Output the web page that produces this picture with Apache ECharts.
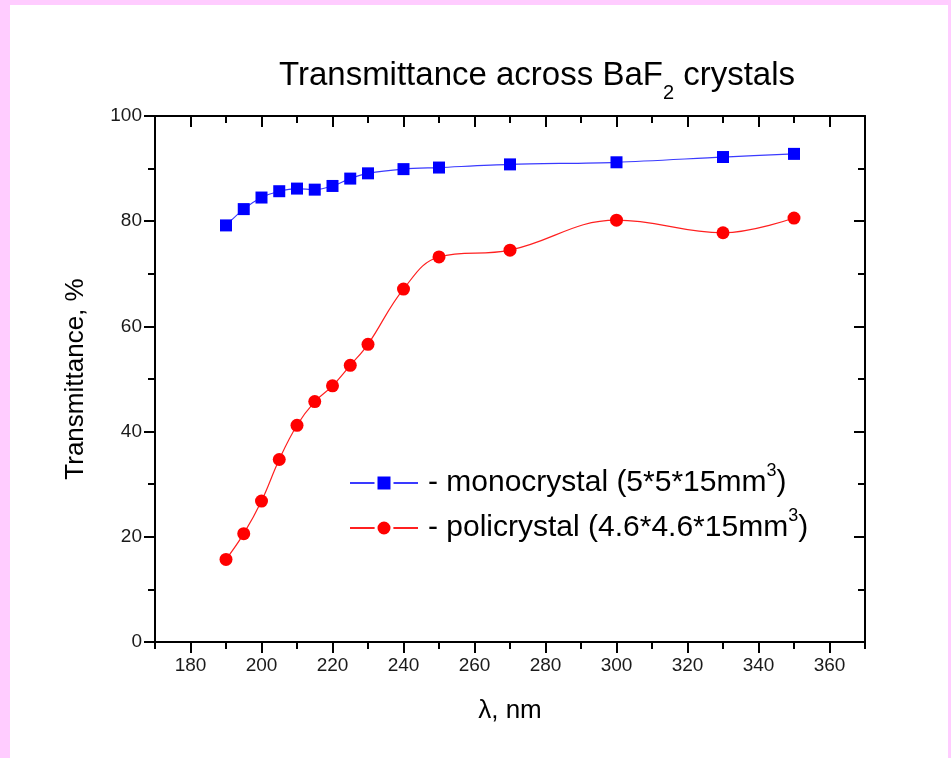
<!DOCTYPE html>
<html>
<head>
<meta charset="utf-8">
<script src="https://cdn.jsdelivr.net/npm/echarts@6/dist/echarts.min.js"></script>
<style>
  html, body { margin: 0; padding: 0; background: #ffccff; }
  #wrap { position: relative; width: 951px; height: 758px; background: #ffccff; overflow: hidden; }
  #chart { position: absolute; left: 10px; top: 5px; width: 938px; height: 753px; background: #ffffff; }
</style>
</head>
<body>
<div id="wrap"><div id="chart"></div></div>
<script>
// ---- data ----
var wavelengthsMono = [190, 195, 200, 205, 210, 215, 220, 225, 230, 240, 250, 270, 300, 330, 350];
var transMono       = [79.2, 82.3, 84.5, 85.7, 86.2, 86.0, 86.7, 88.1, 89.1, 89.9, 90.2, 90.8, 91.2, 92.2, 92.8];
var wavelengthsPoly = [190, 195, 200, 205, 210, 215, 220, 225, 230, 240, 250, 270, 300, 330, 350];
var transPoly       = [15.7, 20.6, 26.8, 34.7, 41.2, 45.7, 48.7, 52.6, 56.6, 67.1, 73.2, 74.5, 80.2, 77.8, 80.6];
var xRange = { min: 170, max: 370, interval: 10 };
var xMajorTicks = [180, 200, 220, 240, 260, 280, 300, 320, 340, 360];
var xMinorTicks = [170, 190, 210, 230, 250, 270, 290, 310, 330, 350, 370];
var yRange = { min: 0, max: 100, interval: 20 };
var titleParts = ['Transmittance across BaF', '2', ' crystals'];
var seriesNames = ['monocrystal', 'policrystal'];
var legendTexts = [['- monocrystal (5*5*15mm', '3', ')'], ['- policrystal (4.6*4.6*15mm', '3', ')']];
var xName = 'λ, nm';
var yName = 'Transmittance, %';

function zip(xs, ys) { return xs.map(function (x, i) { return [x, ys[i]]; }); }

var FONT = 'Liberation Sans, Arial, sans-serif';
var BLACK2 = { color: '#000', width: 2 };

function makeX(grid, pos, major) {
  var isMain = major && pos === 'bottom';
  return {
    gridIndex: grid, type: 'value', position: pos,
    min: xRange.min, max: xRange.max, interval: xRange.interval,
    axisLine: { show: major, onZero: false, lineStyle: BLACK2 },
    axisTick: { show: true, inside: pos === 'top', length: major ? 11 : 7,
                customValues: major ? xMajorTicks : xMinorTicks, lineStyle: BLACK2 },
    axisLabel: { show: isMain, customValues: xMajorTicks, color: '#1a1a1a', fontSize: 19, fontFamily: FONT, margin: 14 },
    splitLine: { show: false },
    name: isMain ? xName : '', nameLocation: 'middle', nameGap: 56,
    nameTextStyle: { color: '#000', fontSize: 26, fontFamily: FONT }
  };
}
function makeY(grid, pos) {
  var isMain = grid === 0 && pos === 'left';
  return {
    gridIndex: grid, type: 'value', position: pos, show: grid === 0,
    min: yRange.min, max: yRange.max, interval: yRange.interval,
    axisLine: { show: true, onZero: false, lineStyle: BLACK2 },
    axisTick: { show: true, inside: pos === 'right', length: 11, lineStyle: BLACK2 },
    minorTick: { show: true, splitNumber: 2, length: 7, lineStyle: BLACK2 },
    axisLabel: { show: isMain, color: '#1a1a1a', fontSize: 19, fontFamily: FONT, margin: 13 },
    splitLine: { show: false }, minorSplitLine: { show: false },
    name: isMain ? yName : '', nameLocation: 'middle', nameGap: 66, nameRotate: 90,
    nameTextStyle: { color: '#000', fontSize: 26, fontFamily: FONT }
  };
}

var legendRich = {
  a: { fontSize: 30, fontFamily: FONT, color: '#000' },
  p: { fontSize: 30, fontFamily: FONT, color: '#000', padding: [0, 0, 0, 5] },
  s: { fontSize: 18, fontFamily: FONT, color: '#000', padding: [0, 0, 24, 0] }
};
function makeLegend(idx, top) {
  var t = legendTexts[idx];
  return {
    data: [seriesNames[idx]], left: 334, top: top, orient: 'vertical',
    itemWidth: 68, itemHeight: 20,
    itemStyle: { borderColor: '#fff', borderWidth: 3 },
    formatter: function () { return '{p|' + t[0] + '}{s|' + t[1] + '}{a|' + t[2] + '}'; },
    textStyle: { rich: legendRich }
  };
}

var gridRect = { left: 145, right: 83, top: 111, bottom: 116 };
var chart = echarts.init(document.getElementById('chart'), null, { renderer: 'canvas' });
chart.setOption({
  backgroundColor: '#ffffff',
  animation: false,
  title: {
    text: '{a|' + titleParts[0] + '}{s|' + titleParts[1] + '}{a|' + titleParts[2] + '}',
    left: 264, top: 39,
    textStyle: {
      fontWeight: 'normal',
      rich: {
        a: { fontSize: 33, fontWeight: 'normal', fontFamily: FONT, color: '#000' },
        s: { fontSize: 20, fontWeight: 'normal', fontFamily: FONT, color: '#000', padding: [34, 0, 0, 0] }
      }
    }
  },
  grid: [Object.assign({}, gridRect), Object.assign({}, gridRect)],
  xAxis: [makeX(0, 'bottom', true), makeX(0, 'top', true), makeX(1, 'bottom', false), makeX(1, 'top', false)],
  yAxis: [makeY(0, 'left'), makeY(0, 'right'), makeY(1, 'left'), makeY(1, 'right')],
  legend: [makeLegend(0, 452), makeLegend(1, 497)],
  series: [
    {
      name: seriesNames[0], type: 'line', xAxisIndex: 0, yAxisIndex: 0,
      data: zip(wavelengthsMono, transMono),
      smooth: 0.3, symbol: 'rect', symbolSize: 12,
      itemStyle: { color: '#0000ff' },
      lineStyle: { color: '#3a3aff', width: 1.2 },
      z: 3
    },
    {
      name: seriesNames[1], type: 'line', xAxisIndex: 0, yAxisIndex: 0,
      data: zip(wavelengthsPoly, transPoly),
      smooth: 0.4, symbol: 'circle', symbolSize: 13,
      itemStyle: { color: '#ff0000' },
      lineStyle: { color: '#ff2020', width: 1.2 },
      z: 3
    }
  ]
});
</script>
</body>
</html>
